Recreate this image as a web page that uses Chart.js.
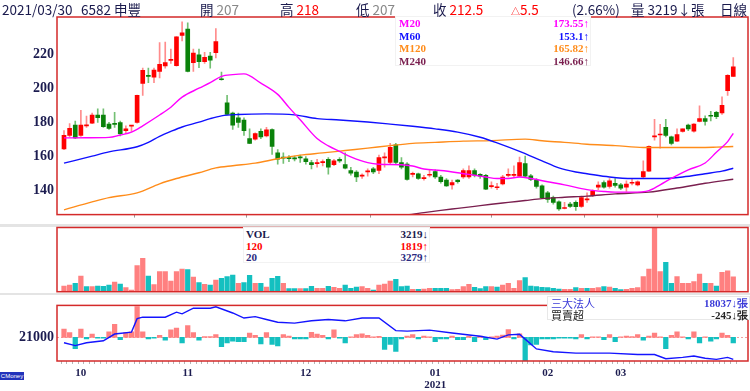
<!DOCTYPE html>
<html>
<head>
<meta charset="utf-8">
<script src="https://cdn.jsdelivr.net/npm/chart.js@4.4.1/dist/chart.umd.min.js"></script>
<style>
body { margin: 0; background: #fff; }
#wrap { position: relative; width: 750px; height: 391px; overflow: hidden; font-family: "Noto Sans CJK TC", sans-serif; }
canvas { position: absolute; left: 0; }
.band { position: absolute; left: 0; width: 750px; background: #e4e4e4; }
.hd { position: absolute; top: 1px; font-size: 13.5px; line-height: 16px; color: #1a1a4d; white-space: nowrap; z-index: 5; }
.r { color: #f00; }
.g { color: #888; }
.box { position: absolute; background: #fff; font-family: "Liberation Serif", serif; font-weight: bold; font-size: 11px; box-sizing: border-box; }
.row { display: flex; justify-content: space-between; white-space: nowrap; }
</style>
</head>
<body>
<div id="wrap">
  <div class="band" style="top:224px;height:2.5px"></div>
  <div class="band" style="top:292.5px;height:2px"></div>

  <canvas id="price" width="750" height="226" style="top:0"></canvas>
  <canvas id="volume" width="750" height="67" style="top:226px"></canvas>
  <canvas id="inst" width="750" height="97" style="top:294px"></canvas>

  <div class="box" style="left:395px;top:16px;width:196px;height:50px;padding:0 1px 0 3px;line-height:12.5px;border:1px solid #f2f2f2">
    <div class="row" style="color:#ff00ff"><span>M20</span><span>173.55↑</span></div>
    <div class="row" style="color:#1010ff"><span>M60</span><span>153.1↑</span></div>
    <div class="row" style="color:#ff8c1a"><span>M120</span><span>165.82↑</span></div>
    <div class="row" style="color:#7a1f4f"><span>M240</span><span>146.66↑</span></div>
  </div>

  <div class="box" style="left:243px;top:227px;width:187px;height:36px;padding:1px 1px 0 2px;line-height:11.7px;border:1px solid #f2f2f2">
    <div class="row" style="color:#1a1a4d"><span>VOL</span><span>3219↓</span></div>
    <div class="row" style="color:#f00"><span>120</span><span>1819↑</span></div>
    <div class="row" style="color:#2a2a80"><span>20</span><span>3279↑</span></div>
  </div>

  <div class="box" style="left:547px;top:296px;width:203px;height:24px;padding:1px 1px 0 3px;line-height:11.7px;border:1px solid #e8e8e8">
    <div class="row" style="color:#3a3ad8"><span style="font-family:'Noto Sans CJK TC';font-weight:normal">三大法人</span><span>18037↓張</span></div>
    <div class="row" style="color:#222"><span style="font-family:'Noto Sans CJK TC';font-weight:normal">買賣超</span><span>-245↓張</span></div>
  </div>

  <div class="hd" style="left:2px">2021/03/30</div>
  <div class="hd" style="left:81px">6582 申豐</div>
  <div class="hd" style="left:200px">開 <span class="g">207</span></div>
  <div class="hd" style="left:280px">高 <span class="r">218</span></div>
  <div class="hd" style="left:356px">低 <span class="g">207</span></div>
  <div class="hd" style="left:433px">收 <span class="r">212.5</span></div>
  <div class="hd r" style="left:511px"><span style="font-size:9px">△</span>5.5</div>
  <div class="hd" style="left:572px">(2.66%)</div>
  <div class="hd" style="left:631px">量 3219↓張</div>
  <div class="hd" style="left:720px">日線</div>

  <div style="position:absolute;left:0;top:372px;width:24px;height:8px;background:#2233bb;color:#fff;font-size:6px;line-height:8px;font-family:'Liberation Sans';text-align:center">CMoney</div>
</div>

<script>
// trading days: 2020/09/28 .. 2021/03/30, index 0..119
const monthStart = [3, 22, 43, 66, 86, 99];
const monthLabels = ['10', '11', '12', '01', '02', '03'];
const yearLabel = '2021';
const yearAt = 66;
const priceTicks = [140, 160, 180, 200, 220];
const instTicks = [21000];

const openP = [
  164.5, 172.4, 178.4, 172.4, 177.9, 179.5, 184.2, 184.2, 179.0, 179.3,
  179.9, 175.2, 177.8, 179.9, 202.8, 207.2, 206.5, 209.9, 213.1, 216.3,
  213.3, 230.9, 234.6, 215.0, 219.6, 215.5, 218.9, 220.8, 205.4, 191.5,
  185.5, 182.7, 181.4, 170.5, 170.2, 174.8, 172.0, 175.8, 162.1, 159.3,
  159.0, 158.8, 159.4, 158.7, 156.5, 155.8, 156.4, 158.4, 155.2, 158.4,
  155.2, 151.8, 150.9, 148.5, 151.0, 152.7, 151.8, 159.2, 156.5, 166.8,
  156.5, 155.5, 149.5, 149.9, 147.0, 149.0, 151.2, 148.0, 146.2, 143.4,
  146.2, 148.0, 148.0, 151.8, 149.5, 149.0, 142.3, 141.7, 143.9, 148.9,
  148.9, 148.4, 155.9, 148.6, 146.2, 142.8, 138.7, 135.9, 133.4, 129.5,
  132.1, 133.1, 130.8, 134.5, 137.2, 142.0, 144.7, 142.4, 144.3, 143.4,
  142.0, 144.3, 143.4, 148.0, 151.4, 171.5, 172.6, 177.1, 171.5, 169.0,
  174.7, 178.4, 174.8, 180.6, 182.2, 183.8, 185.9, 185.5, 198.6, 207.0
];
const highP = [
  175.2, 179.3, 180.8, 187.0, 183.7, 185.5, 188.0, 188.0, 180.0, 185.9,
  180.8, 178.0, 178.3, 196.0, 211.8, 211.8, 211.8, 226.8, 227.1, 223.0,
  230.3, 238.9, 238.4, 223.0, 223.0, 221.1, 221.1, 235.0, 209.5, 195.8,
  186.1, 185.5, 182.7, 176.2, 173.9, 176.2, 177.1, 176.2, 164.0, 162.1,
  160.5, 160.2, 160.8, 160.0, 157.8, 158.4, 158.0, 159.3, 158.4, 159.3,
  162.1, 153.7, 151.8, 149.9, 152.7, 153.7, 160.8, 162.1, 167.7, 167.7,
  159.3, 156.5, 150.9, 150.3, 149.0, 152.2, 152.2, 149.0, 147.1, 146.2,
  146.5, 152.7, 154.6, 152.7, 150.0, 149.5, 145.2, 144.3, 149.0, 152.7,
  154.6, 159.7, 160.2, 149.5, 147.1, 143.4, 139.6, 136.8, 134.0, 133.1,
  133.1, 134.0, 136.8, 138.7, 140.5, 145.2, 145.8, 147.1, 147.1, 144.3,
  145.8, 147.1, 145.8, 157.4, 166.2, 181.8, 178.9, 181.8, 172.0, 176.2,
  176.2, 179.0, 179.3, 189.7, 183.8, 186.5, 186.5, 194.9, 208.0, 218.0
];
const lowP = [
  164.0, 171.5, 170.5, 171.8, 177.1, 179.3, 179.9, 177.1, 175.9, 177.1,
  172.0, 173.4, 174.7, 179.6, 195.8, 203.3, 203.3, 206.1, 211.8, 214.6,
  213.0, 227.7, 209.5, 209.9, 212.1, 214.6, 211.8, 217.8, 204.8, 184.4,
  175.8, 177.1, 172.4, 167.5, 169.6, 170.5, 171.5, 161.2, 155.5, 155.9,
  157.0, 157.4, 156.5, 155.5, 152.7, 153.7, 154.5, 149.6, 154.6, 156.5,
  152.7, 149.0, 145.2, 147.1, 148.4, 149.9, 149.9, 153.7, 155.5, 155.2,
  152.7, 146.2, 148.0, 146.5, 146.2, 148.0, 147.1, 144.3, 142.4, 140.9,
  144.3, 147.1, 147.1, 148.0, 147.1, 140.6, 141.5, 140.6, 143.4, 148.0,
  148.0, 148.0, 148.0, 145.8, 141.5, 135.3, 133.1, 132.1, 128.4, 129.3,
  130.2, 128.4, 130.2, 133.1, 136.4, 140.6, 141.5, 141.5, 142.0, 140.6,
  139.6, 143.4, 142.8, 147.6, 151.2, 169.6, 164.9, 171.5, 166.8, 168.7,
  174.3, 175.2, 174.3, 180.2, 178.4, 180.8, 182.2, 184.6, 195.8, 207.0
];
const closeP = [
  172.4, 176.5, 170.9, 178.4, 178.2, 184.2, 182.7, 177.5, 176.5, 178.8,
  173.4, 176.2, 178.0, 195.8, 210.5, 207.0, 210.6, 214.0, 215.1, 217.0,
  230.1, 232.4, 209.9, 220.6, 215.5, 218.1, 216.4, 227.3, 205.0, 184.6,
  178.4, 179.9, 175.2, 167.7, 173.4, 171.5, 175.6, 165.9, 158.4, 159.0,
  158.8, 158.6, 159.2, 157.0, 155.2, 156.1, 156.7, 153.7, 157.4, 157.4,
  153.1, 150.3, 148.0, 148.8, 151.3, 150.9, 159.3, 159.5, 165.3, 156.5,
  153.7, 146.5, 149.7, 147.1, 147.2, 149.2, 148.0, 145.2, 142.8, 144.7,
  145.2, 151.8, 151.8, 149.0, 148.4, 140.9, 142.5, 142.0, 148.0, 149.2,
  149.2, 156.5, 148.4, 146.5, 142.4, 135.9, 134.9, 133.1, 129.3, 129.8,
  130.8, 130.6, 135.9, 135.2, 139.6, 143.3, 142.0, 145.8, 143.0, 141.5,
  143.9, 144.6, 145.2, 151.2, 166.0, 171.9, 172.8, 172.4, 167.7, 172.8,
  176.2, 176.2, 179.0, 182.2, 180.6, 183.6, 183.3, 190.0, 207.6, 212.5
];

// 成交量 (張)
const volume = [
  1230, 1450, 1810, 3410, 1090, 1090, 1230, 1160, 1450, 2100,
  1670, 870, 360, 5660, 7250, 3410, 1520, 4350, 4350, 2320,
  4350, 4930, 4790, 3190, 1960, 1600, 1450, 2540, 2900, 3260,
  3630, 1810, 1960, 3550, 1810, 1810, 1020, 2900, 3340, 1810,
  650, 650, 650, 650, 1160, 730, 730, 1160, 940, 730,
  1450, 730, 1020, 1090, 730, 360, 1450, 1670, 2320, 2680,
  1100, 1230, 510, 510, 580, 730, 730, 730, 730, 440,
  510, 1090, 1600, 940, 650, 1090, 1090, 1020, 1450, 1810,
  730, 2390, 3050, 1230, 1090, 940, 870, 730, 580, 510,
  510, 870, 730, 730, 730, 870, 1090, 1020, 730, 440,
  510, 730, 870, 3260, 4930, 13780, 4350, 6380, 1810, 3260,
  1810, 1810, 2180, 3840, 1810, 1810, 1230, 4210, 4500, 3219
];

// 三大法人買賣超 (張)
const netBuy = [
  366, 207, -488, 366, -61, 146, -37, -37, 244, 573,
  -98, 207, 244, 1342, 244, -61, -30, 85, -122, 329,
  403, -244, 512, 207, -122, 37, 37, 122, -403, -244,
  -159, -183, -183, 183, 85, -281, 207, -305, -366, 122,
  61, -61, -61, -61, 220, 146, 85, -61, 329, -37,
  -244, 20, 122, 159, 85, 24, 49, -525, -305, -610,
  -61, 60, 122, -61, 61, 24, -183, -61, -61, 61,
  -98, -98, 61, -183, 61, -98, 24, 61, 100, 342,
  -61, 159, -1012, -330, -305, -61, -61, -61, -37, -37,
  -37, -61, 122, -61, 24, 24, -98, 122, -183, 24,
  61, 37, 122, -122, 61, 183, 24, -488, 85, 244,
  24, -61, 244, -244, 24, -159, -61, 183, 85, -245
];

// 三大法人持股 (張), read at these day indexes
const instIdx = [0, 2, 4, 7, 9, 12, 13, 14, 18, 20, 21, 23, 26, 27, 30, 32, 34, 36, 38, 41,
  44, 47, 50, 53, 56, 59, 61, 65, 69, 74, 77, 79, 81, 82, 84, 87, 91, 97, 102, 105,
  107, 110, 112, 114, 116, 118, 119];
const instHold = [20310, 19920, 20310, 20575, 21495, 21760, 23600, 23795, 23795, 24485, 24255, 25025, 25025, 25210, 24370, 23680, 23875, 23485, 23105, 22990,
  23300, 23485, 23300, 23680, 23680, 21955, 21900, 22035, 21645, 21185, 20805, 21380, 21460, 20805, 19460, 19080, 18885, 18885, 18700, 18700,
  18125, 18310, 18505, 18195, 18040, 18310, 18037];

// moving averages, read at these day indexes
const m20Idx = [0, 4, 8, 10, 12, 14, 17, 19, 21, 24, 26, 28, 30, 32, 35, 38, 40, 42, 45, 47,
  49, 51, 54, 56, 60, 62, 64, 67, 70, 73, 75, 77, 79, 81, 83, 86, 89, 93, 96, 98,
  101, 104, 106, 108, 111, 114, 116, 118, 119];
const m20 = [170.9, 171.0, 171.2, 172.6, 174.3, 178.0, 184.3, 188.9, 194.8, 200.0, 203.3, 207.0, 208.0, 208.4, 203.0, 196.4, 188.8, 181.5, 170.5, 166.2,
  163.0, 159.8, 156.4, 155.5, 155.2, 154.4, 152.7, 151.8, 150.5, 149.0, 148.0, 147.1, 147.1, 148.0, 147.1, 145.2, 143.4, 140.6, 139.5, 139.1,
  139.1, 140.0, 143.4, 147.2, 152.2, 156.2, 162.5, 168.7, 173.55];
const m60Idx = [0, 5, 8, 13, 15, 17, 19, 21, 24, 26, 28, 31, 36, 41, 45, 49, 54, 58, 62, 66,
  70, 74, 77, 81, 85, 88, 91, 93, 97, 101, 106, 110, 114, 117, 119];
const m60 = [156.1, 160.2, 162.7, 165.7, 168.3, 171.8, 174.7, 177.3, 180.1, 182.2, 183.8, 184.6, 185.0, 184.4, 182.2, 181.4, 180.2, 179.0, 177.7, 176.2,
  174.3, 171.3, 168.0, 163.0, 157.4, 153.3, 150.9, 149.9, 148.0, 147.1, 147.1, 148.0, 149.9, 151.4, 153.1];
const m120Idx = [0, 5, 8, 13, 17, 20, 24, 27, 30, 34, 38, 42, 46, 50, 54, 58, 62, 66, 71, 76,
  82, 85, 89, 93, 98, 103, 108, 113, 116, 119];
const m120 = [128.7, 133.4, 135.9, 138.7, 144.0, 147.1, 150.5, 153.3, 154.6, 156.1, 158.7, 160.8, 162.1, 163.5, 164.9, 166.4, 167.7, 168.3, 169.0, 169.3,
  170.2, 169.2, 168.3, 167.2, 166.4, 165.3, 165.3, 165.3, 165.5, 165.82];
const m240Idx = [58, 61, 64, 67, 70, 73, 76, 79, 82, 85, 89, 93, 98, 104, 109, 114, 119];
const m240 = [125.0, 125.8, 127.1, 128.4, 129.6, 130.8, 132.0, 133.1, 134.2, 135.3, 136.1, 136.8, 138.1, 139.1, 141.5, 144.3, 146.66];

const NAVY = '#1c1c50';
const X_MIN = -1.245;
const X_MAX = 121.62;

const pts = (idx, vals) => vals.map((v, i) => ({ x: idx[i], y: v }));
const candleUp = i => closeP[i] >= openP[i];
const volUp = i => i === 0 ? candleUp(0) : closeP[i] >= closeP[i - 1];

const frame = {
  id: 'frame',
  afterDraw(chart) {
    const { ctx, chartArea: a } = chart;
    ctx.save();
    ctx.strokeStyle = '#d42a2a';
    ctx.lineWidth = 1.5;
    ctx.strokeRect(a.left, a.top, a.right - a.left, a.bottom - a.top);
    ctx.restore();
  }
};

const zeroLine = {
  id: 'zeroLine',
  beforeDatasetsDraw(chart) {
    const { ctx, chartArea: a } = chart;
    const y = Math.round(chart.scales.yb.getPixelForValue(0)) + 0.5;
    ctx.save();
    ctx.setLineDash([2, 2]);
    ctx.strokeStyle = '#f2a0a0';
    ctx.lineWidth = 1;
    ctx.beginPath();
    ctx.moveTo(a.left, y);
    ctx.lineTo(a.right, y);
    ctx.stroke();
    ctx.restore();
  }
};

const base = {
  responsive: false,
  animation: false,
  events: [],
  plugins: { legend: { display: false }, tooltip: { enabled: false } },
};

const maLine = (idx, vals, color) => ({
  type: 'line',
  data: pts(idx, vals),
  borderColor: color,
  borderWidth: 1.4,
  pointRadius: 0,
  cubicInterpolationMode: 'monotone',
  order: 0,
});

new Chart(document.getElementById('price'), {
  type: 'bar',
  data: {
    datasets: [
      maLine(m20Idx, m20, '#ff00ff'),
      maLine(m60Idx, m60, '#1010ff'),
      maLine(m120Idx, m120, '#ff8c1a'),
      maLine(m240Idx, m240, '#7a1f4f'),
      {
        data: closeP.map((c, i) => ({ x: i, y: [openP[i], c] })),
        backgroundColor: ctx => candleUp(ctx.dataIndex) ? '#ff0000' : '#0a820a',
        barThickness: 4,
        minBarLength: 1,
        grouped: false,
        order: 1,
      },
      {
        data: lowP.map((l, i) => ({ x: i, y: [l, highP[i]] })),
        backgroundColor: ctx => candleUp(ctx.dataIndex) ? '#ff8c8c' : '#74c074',
        barThickness: 1,
        grouped: false,
        order: 2,
      },
    ]
  },
  options: {
    ...base,
    layout: { padding: { left: 0, right: 2, top: 17, bottom: 0 } },
    scales: {
      x: {
        type: 'linear', min: X_MIN, max: X_MAX, offset: false,
        afterBuildTicks: s => { s.ticks = monthStart.map(v => ({ value: v })); },
        afterFit: s => { s.height = 3; },
        ticks: { display: false },
        grid: { drawOnChartArea: false, drawTicks: true, tickLength: 3, color: '#9a9a9a' },
        border: { display: false },
      },
      y: {
        min: 125.95, max: 241.75,
        afterBuildTicks: s => { s.ticks = priceTicks.map(v => ({ value: v })); },
        afterFit: s => { s.width = 57; },
        ticks: { color: NAVY, padding: 3, callback: v => String(v), font: { family: 'Liberation Serif', weight: 'bold', size: 14 } },
        grid: { display: false, drawTicks: false },
        border: { display: false },
      }
    }
  },
  plugins: [frame]
});

new Chart(document.getElementById('volume'), {
  type: 'bar',
  data: {
    datasets: [{
      data: volume.map((v, i) => ({ x: i, y: v })),
      backgroundColor: ctx => volUp(ctx.dataIndex) ? '#ff8080' : '#14c0c0',
      barThickness: 4.6,
    }]
  },
  options: {
    ...base,
    layout: { padding: { left: 57, right: 2, top: 1.5, bottom: 1.3 } },
    scales: {
      x: { type: 'linear', min: X_MIN, max: X_MAX, offset: false, display: false },
      y: { min: 0, max: 13920, display: false },
    }
  },
  plugins: [frame]
});

new Chart(document.getElementById('inst'), {
  type: 'bar',
  data: {
    datasets: [
      {
        type: 'line',
        data: pts(instIdx, instHold),
        yAxisID: 'yl',
        borderColor: '#1414ff',
        borderWidth: 1.4,
        pointRadius: 0,
        tension: 0,
        order: 0,
      },
      {
        data: netBuy.map((v, i) => ({ x: i, y: v })),
        yAxisID: 'yb',
        backgroundColor: ctx => netBuy[ctx.dataIndex] >= 0 ? '#ff8080' : '#14c0c0',
        barThickness: 4.6,
        order: 1,
      }
    ]
  },
  options: {
    ...base,
    layout: { padding: { left: 0, right: 2, top: 1, bottom: 0 } },
    scales: {
      x: {
        type: 'linear', min: X_MIN, max: X_MAX, offset: false,
        afterBuildTicks: s => { s.ticks = closeP.map((_, i) => ({ value: i })); },
        afterFit: s => { s.height = 30; },
        ticks: {
          autoSkip: false, maxRotation: 0, minRotation: 0, padding: 3, color: NAVY,
          font: { family: 'Liberation Serif', weight: 'bold', size: 11, lineHeight: 1.1 },
          callback: v => {
            const k = monthStart.indexOf(v);
            if (k < 0) return '';
            return v === yearAt ? [monthLabels[k], yearLabel] : monthLabels[k];
          }
        },
        grid: { drawOnChartArea: false, drawTicks: true, tickLength: 3, color: '#b4b4b4' },
        border: { display: false },
      },
      yl: {
        position: 'left',
        min: 17815, max: 25405,
        afterBuildTicks: s => { s.ticks = instTicks.map(v => ({ value: v })); },
        afterFit: s => { s.width = 57; },
        ticks: { color: NAVY, padding: 3, callback: v => String(v), font: { family: 'Liberation Serif', weight: 'bold', size: 14 } },
        grid: { display: false, drawTicks: false },
        border: { display: false },
      },
      yb: { position: 'right', display: false, min: -1025, max: 1390 },
    }
  },
  plugins: [frame, zeroLine]
});
</script>
</body>
</html>
